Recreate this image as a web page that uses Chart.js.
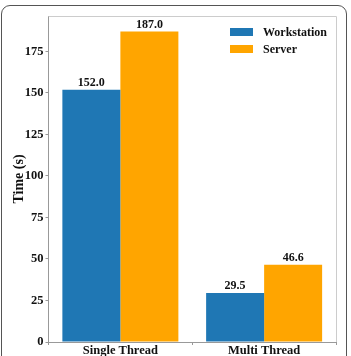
<!DOCTYPE html>
<html>
<head>
<meta charset="utf-8">
<script src="https://cdn.jsdelivr.net/npm/chart.js@4.4.1/dist/chart.umd.min.js"></script>
<style>
  html, body { margin: 0; padding: 0; background: #fff; }
  #wrap { position: relative; width: 351px; height: 356px; overflow: hidden; }
  #frame {
    position: absolute; left: 1px; top: 5px; width: 344px; height: 370px;
    border: 1.5px solid #555; border-radius: 9px;
  }
  canvas { position: absolute; left: 0; top: 0; }
</style>
</head>
<body>
<div id="wrap">
  <div id="frame"></div>
  <canvas id="chart" width="351" height="356"></canvas>
</div>
<script>
const categories = ['Single Thread', 'Multi Thread']
const seriesNames = ['Workstation', 'Server']
const workstationTimes = [152.0, 29.5]
const serverTimes = [187.0, 46.6]
const yTickValues = [0, 25, 50, 75, 100, 125, 150, 175]
const yMax = 196.35

const serif = '"Liberation Serif", "Times New Roman", serif'
const boldFont = { family: serif, size: 12, weight: 'bold' }

// value labels above bars + the light top/right spines + legend inside the axes
const decorations = {
  id: 'decorations',
  afterDatasetsDraw(chart) {
    const { ctx, chartArea } = chart
    ctx.save()
    ctx.strokeStyle = '#cccccc'
    ctx.lineWidth = 1
    ctx.beginPath()
    ctx.moveTo(chartArea.left, chartArea.top + 0.5)
    ctx.lineTo(chartArea.right + 0.5, chartArea.top + 0.5)
    ctx.lineTo(chartArea.right + 0.5, chartArea.bottom)
    ctx.stroke()

    ctx.font = `bold 12px ${serif}`
    ctx.fillStyle = '#111'
    ctx.textAlign = 'center'
    ctx.textBaseline = 'bottom'
    chart.data.datasets.forEach((ds, i) => {
      chart.getDatasetMeta(i).data.forEach((bar, j) => {
        ctx.fillText(ds.data[j].toFixed(1), bar.x, bar.y - 1)
      })
    })

    ctx.textAlign = 'left'
    ctx.textBaseline = 'middle'
    chart.data.datasets.forEach((ds, i) => {
      const y = 28 + i * 17
      ctx.fillStyle = ds.backgroundColor
      ctx.fillRect(230, y, 23, 8)
      ctx.fillStyle = '#111'
      ctx.fillText(ds.label, 263, y + 4.5)
    })
    ctx.restore()
  }
}

new Chart(document.getElementById('chart'), {
  type: 'bar',
  data: {
    labels: categories,
    datasets: [
      { label: seriesNames[0], data: workstationTimes, backgroundColor: '#1f77b4' },
      { label: seriesNames[1], data: serverTimes, backgroundColor: '#ffa500' },
    ]
  },
  options: {
    responsive: false,
    animation: false,
    devicePixelRatio: 1,
    layout: { padding: { left: 0, top: 16, right: 15, bottom: 0 } },
    datasets: {
      bar: { categoryPercentage: 0.807, barPercentage: 1 }
    },
    plugins: {
      legend: { display: false },
      tooltip: { enabled: false },
    },
    scales: {
      x: {
        type: 'category',
        offset: true,
        grid: { drawOnChartArea: false, drawTicks: true, tickLength: 3, color: '#999' },
        border: { color: '#999' },
        ticks: { color: '#111', font: { family: serif, size: 12.5, weight: 'bold' }, padding: -2, maxRotation: 0 },
        afterFit(scale) { scale.height = 14 },
      },
      y: {
        min: 0,
        max: yMax,
        grid: { drawOnChartArea: false, drawTicks: true, tickLength: 3, color: '#999' },
        border: { color: '#999' },
        ticks: { color: '#111', font: { family: serif, size: 12.5, weight: 'bold' }, padding: 2, stepSize: 25 },
        afterBuildTicks(scale) {
          scale.ticks = yTickValues.map(value => ({ value }))
        },
        title: {
          display: true,
          text: 'Time (s)',
          color: '#111',
          font: { family: serif, size: 14, weight: 'bold' },
          padding: { top: 11, bottom: 0 },
        },
        afterFit(scale) { scale.width = 48.5 },
      }
    }
  },
  plugins: [decorations]
})
</script>
</body>
</html>
